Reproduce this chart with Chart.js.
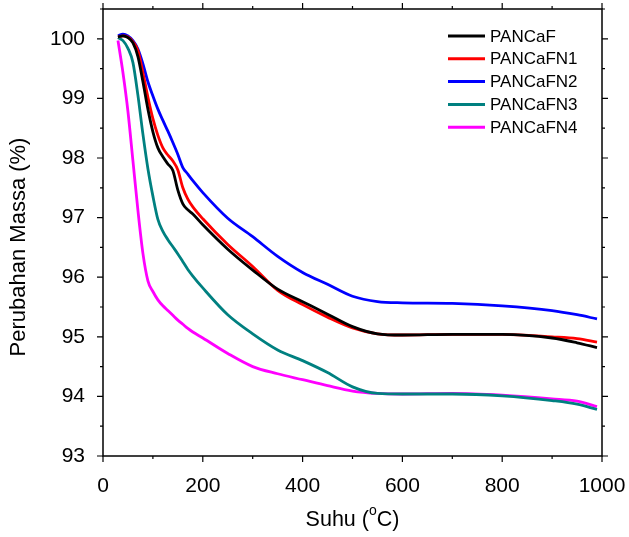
<!DOCTYPE html>
<html lang="id">
<head>
<meta charset="UTF-8">
<title>TGA PANCaF</title>
<script src="https://cdn.jsdelivr.net/npm/chart.js"></script>
<style>
    html, body { margin: 0; padding: 0; background: #fff; }
    #wrap { width: 629px; height: 537px; }
</style>
</head>
<body>
<div id="wrap"><canvas id="tga"></canvas></div>
<script>
// suhu (°C) yang dibaca dari grafik
const suhu = [30, 40, 50, 60, 70, 80, 90, 100, 110, 120, 130, 140, 150, 160, 170, 180, 200,
              250, 300, 350, 400, 450, 500, 550, 600, 700, 800, 900, 950, 990];

const labels = ['PANCaF', 'PANCaFN1', 'PANCaFN2', 'PANCaFN3', 'PANCaFN4'];
const colors = ['#000000', '#ff0000', '#0000ff', '#008080', '#ff00ff'];

const massaF  = [100.03, 100.05, 100.02, 99.93, 99.7, 99.28, 98.82, 98.44, 98.17, 98.02, 97.9, 97.79, 97.46, 97.23, 97.13, 97.06, 96.88,
                 96.47, 96.12, 95.8, 95.59, 95.38, 95.17, 95.05, 95.03, 95.04, 95.04, 94.98, 94.9, 94.82];
const massaN1 = [100.03, 100.05, 100.03, 99.95, 99.8, 99.43, 99.02, 98.66, 98.38, 98.17, 98.05, 97.95, 97.8, 97.5, 97.31, 97.18, 96.98,
                 96.55, 96.18, 95.78, 95.54, 95.33, 95.15, 95.05, 95.03, 95.04, 95.04, 95.0, 94.97, 94.91];
const massaN2 = [100.05, 100.08, 100.05, 99.97, 99.83, 99.58, 99.28, 99.04, 98.82, 98.63, 98.45, 98.26, 98.06, 97.84, 97.73, 97.62, 97.42,
                 96.99, 96.68, 96.35, 96.08, 95.88, 95.68, 95.59, 95.57, 95.56, 95.52, 95.44, 95.37, 95.3];
const massaN3 = [100.02, 99.97, 99.84, 99.6, 99.05, 98.4, 97.82, 97.36, 96.97, 96.77, 96.63, 96.51, 96.39, 96.26, 96.13, 96.02, 95.82,
                 95.37, 95.05, 94.78, 94.6, 94.4, 94.16, 94.05, 94.04, 94.04, 94.01, 93.93, 93.87, 93.78];
const massaN4 = [99.97, 99.43, 98.78, 97.95, 97.12, 96.4, 95.94, 95.76, 95.62, 95.52, 95.44, 95.36, 95.28, 95.21, 95.14, 95.08, 94.98,
                 94.72, 94.5, 94.38, 94.28, 94.18, 94.09, 94.05, 94.04, 94.05, 94.02, 93.96, 93.92, 93.83];

const xTicks = [0, 200, 400, 600, 800, 1000];
const yTicks = [93, 94, 95, 96, 97, 98, 99, 100];

const allMassa = [massaF, massaN1, massaN2, massaN3, massaN4];
const FONT = "'Liberation Sans', Arial, sans-serif";

// bingkai, tick mayor/minor di keempat sisi, judul sumbu dan legenda
const framePlugin = {
    id: 'frame',
    afterDraw(chart) {
        const ctx = chart.ctx;
        const a = chart.chartArea;
        const xs = chart.scales.x, ys = chart.scales.y;
        ctx.save();
        ctx.strokeStyle = '#000';
        ctx.lineWidth = 1.5;
        ctx.strokeRect(a.left, a.top, a.right - a.left, a.bottom - a.top);
        ctx.lineWidth = 1.2;
        ctx.beginPath();
        for (let v = 0; v <= 1000; v += 100) {
            const px = xs.getPixelForValue(v);
            const len = v % 200 === 0 ? 6 : 3;
            ctx.moveTo(px, a.bottom); ctx.lineTo(px, a.bottom + len);
            ctx.moveTo(px, a.top); ctx.lineTo(px, a.top - len);
        }
        for (let v = 93; v <= 100.5; v += 0.5) {
            const py = ys.getPixelForValue(v);
            const len = Number.isInteger(v) ? 6 : 3;
            ctx.moveTo(a.left, py); ctx.lineTo(a.left - len, py);
            ctx.moveTo(a.right, py); ctx.lineTo(a.right + len, py);
        }
        ctx.stroke();

        // judul sumbu
        ctx.fillStyle = '#000';
        ctx.textBaseline = 'middle';
        const cx = (a.left + a.right) / 2;
        const p1 = 'Suhu (', p2 = 'C)';
        ctx.font = '21.5px ' + FONT;
        const w1 = ctx.measureText(p1).width;
        ctx.font = '14px ' + FONT;
        const wo = ctx.measureText('o').width;
        ctx.font = '21.5px ' + FONT;
        const w2 = ctx.measureText(p2).width;
        const sx = cx - (w1 + wo + w2) / 2;
        ctx.textAlign = 'left';
        ctx.fillText(p1, sx, 520);
        ctx.font = '14px ' + FONT;
        ctx.fillText('o', sx + w1, 511);
        ctx.font = '21.5px ' + FONT;
        ctx.fillText(p2, sx + w1 + wo, 520);

        ctx.save();
        ctx.translate(19, 247);
        ctx.rotate(-Math.PI / 2);
        ctx.textAlign = 'center';
        ctx.font = '22px ' + FONT;
        ctx.fillText('Perubahan Massa (%)', 0, 0);
        ctx.restore();

        // legenda
        ctx.font = '17px ' + FONT;
        ctx.textAlign = 'left';
        chart.data.datasets.forEach((ds, i) => {
            const y = 36 + i * 22.8;
            ctx.strokeStyle = ds.borderColor;
            ctx.lineWidth = 3;
            ctx.beginPath();
            ctx.moveTo(448, y); ctx.lineTo(485, y);
            ctx.stroke();
            ctx.fillText(ds.label, 490, y + 1);
        });
        ctx.restore();
    }
};

new Chart(document.getElementById('tga'), {
    type: 'line',
    data: {
        datasets: labels.map((lab, i) => ({
            label: lab,
            data: suhu.map((t, j) => ({ x: t, y: allMassa[i][j] })),
            borderColor: colors[i],
            backgroundColor: colors[i],
            borderWidth: 2.8,
            pointRadius: 0,
            cubicInterpolationMode: 'monotone',
            fill: false
        }))
    },
    options: {
        responsive: true,
        maintainAspectRatio: false,
        animation: false,
        layout: { padding: { top: 9, right: 27, left: 0, bottom: 0 } },
        plugins: {
            legend: { display: false },
            tooltip: { enabled: false }
        },
        scales: {
            x: {
                type: 'linear',
                min: 0,
                max: 1000,
                grid: { display: false },
                border: { display: false },
                afterFit: s => { s.height = 81; s.paddingLeft = 0; s.paddingRight = 0; },
                afterBuildTicks: s => { s.ticks = xTicks.map(v => ({ value: v })); },
                ticks: { color: '#000', padding: 10, font: { size: 21, family: FONT }, maxRotation: 0,
                         callback: v => String(v) }
            },
            y: {
                type: 'linear',
                min: 93,
                max: 100.5,
                grid: { display: false },
                border: { display: false },
                afterFit: s => { s.width = 103; s.paddingTop = 0; s.paddingBottom = 0; },
                afterBuildTicks: s => { s.ticks = yTicks.map(v => ({ value: v })); },
                ticks: { color: '#000', padding: 10, font: { size: 21, family: FONT },
                         callback: v => String(v) }
            }
        }
    },
    plugins: [framePlugin]
});
</script>
</body>
</html>
